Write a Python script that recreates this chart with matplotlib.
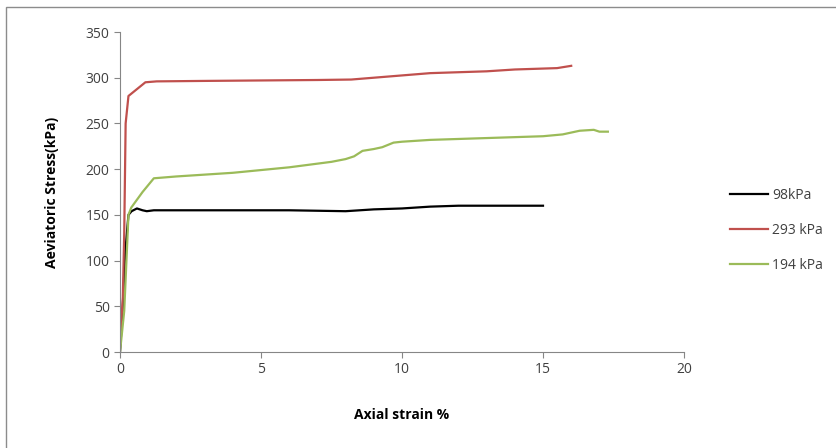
import matplotlib
matplotlib.use('Agg')
import matplotlib.pyplot as plt
from matplotlib.patches import Rectangle

# 98 kPa
strain_98 = [0, 0.1, 0.18, 0.3, 0.41, 0.6, 0.8, 0.95, 1.2, 2, 4, 6, 7, 8, 9, 10, 11, 12, 13, 14, 15]
stress_98 = [0, 50, 107, 150, 154, 157, 155, 154, 155, 155, 155, 155, 154.5, 154, 156, 157, 159, 160, 160, 160, 160]

# 293 kPa
strain_293 = [0, 0.1, 0.15, 0.2, 0.3, 0.5, 0.9, 1.3, 3, 5, 7, 8.2, 9, 10, 11, 12, 13, 14, 15, 15.5, 16]
stress_293 = [10, 60, 130, 250, 280, 285, 295, 296, 296.5, 297, 297.5, 298, 300, 302.5, 305, 306, 307, 309, 310, 310.5, 313]

# 194 kPa
strain_194 = [0, 0.15, 0.3, 0.4, 0.8, 1.2, 2, 3, 4, 5, 6, 7, 7.5, 8, 8.3, 8.6, 9, 9.3, 9.7, 10, 11, 12, 13, 14, 15, 15.7, 16, 16.3, 16.8, 17, 17.3]
stress_194 = [0, 45, 150, 158, 175, 190, 192, 194, 196, 199, 202, 206, 208, 211, 214, 220, 222, 224, 229, 230, 232, 233, 234, 235, 236, 238, 240, 242, 243, 241, 241]

plt.rcParams['font.family'] = ['Open Sans', 'DejaVu Sans']

fig = plt.figure(figsize=(8.37, 4.48), dpi=100)
ax = fig.add_axes([120/837, 1 - 352/448, (684 - 120)/837, (352 - 32)/448])

ax.plot(strain_98, stress_98, color='#000000', lw=1.6, label='98kPa')
ax.plot(strain_293, stress_293, color='#C0504D', lw=1.6, label='293 kPa')
ax.plot(strain_194, stress_194, color='#9BBB59', lw=1.6, label='194 kPa')

ax.set_xlim(0, 20)
ax.set_ylim(0, 350)
ax.set_xticks([0, 5, 10, 15, 20])
ax.set_yticks(range(0, 351, 50))

for s in ['top', 'right']:
    ax.spines[s].set_visible(False)
for s in ['left', 'bottom']:
    ax.spines[s].set_color('#868686')
ax.tick_params(direction='out', length=4, color='#868686', labelsize=10, labelcolor='#404040')

ax.set_xlabel('Axial strain %', fontsize=10, fontweight='bold', labelpad=22)
ax.set_ylabel('Aeviatoric Stress(kPa)', fontsize=10, fontweight='bold', labelpad=19)

leg = ax.legend(loc='center left', bbox_to_anchor=(1.06, 0.38), frameon=False,
                fontsize=10, handlelength=2.7, labelspacing=1.45, handletextpad=0.3)
for t in leg.get_texts():
    t.set_color('#404040')

fig.patches.append(Rectangle((6/837, -0.05), 835/837, 1.05 - 7/448, transform=fig.transFigure,
                             fill=False, edgecolor='#8c8c8c', lw=1))

fig.savefig('out.png', dpi=100)
